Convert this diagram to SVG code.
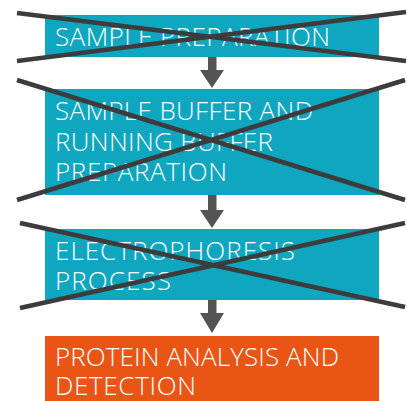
<svg xmlns="http://www.w3.org/2000/svg" width="407" height="401" viewBox="0 0 407 401">
<style>
.box{fill:#0fa6bf}
.box2{fill:#e95515}
.t{font-family:"Open Sans","Liberation Sans",sans-serif;font-size:26px;font-weight:300;fill:#ffffff}
.x{stroke:#3d3b3b;stroke-width:4.5;fill:none}
.arr{fill:#555455}
</style>
<rect width="407" height="401" fill="#ffffff"/>
<g id="node1">
<rect class="box" x="45" y="15" width="334" height="42"/>
<text class="t" x="55" y="46" textLength="275">SAMPLE PREPARATION</text>
<line class="x" x1="17" y1="13" x2="406" y2="61"/>
<line class="x" x1="17" y1="61" x2="406" y2="12"/>
</g>
<g id="node2">
<rect class="box" x="45" y="89" width="334" height="106"/>
<text class="t" x="55" y="120" textLength="258">SAMPLE BUFFER AND</text>
<text class="t" x="55" y="150.5" textLength="218">RUNNING BUFFER</text>
<text class="t" x="55" y="181" textLength="172">PREPARATION</text>
<line class="x" x1="17" y1="80" x2="405" y2="200"/>
<line class="x" x1="17" y1="200" x2="405" y2="80"/>
</g>
<g id="node3">
<rect class="box" x="45" y="229" width="334" height="71"/>
<text class="t" x="55" y="259.5" textLength="240">ELECTROPHORESIS</text>
<text class="t" x="55" y="289.5" textLength="116">PROCESS</text>
<line class="x" x1="20" y1="223" x2="405" y2="307"/>
<line class="x" x1="20" y1="308" x2="405" y2="223"/>
</g>
<g id="node4">
<rect class="box2" x="45" y="336" width="334" height="65"/>
<text class="t" x="55" y="366" textLength="284">PROTEIN ANALYSIS AND</text>
<text class="t" x="55" y="395" textLength="141">DETECTION</text>
</g>
<g id="connectors">
<path class="arr" d="M208 57 H216.5 V70 H224 L212 88 L200 70 H208 Z"/>
<path class="arr" d="M208 195 H216.5 V210 H224 L212 228 L200 210 H208 Z"/>
<path class="arr" d="M208 300 H216.5 V313 H224 L212 333 L200 313 H208 Z"/>
</g>
</svg>
